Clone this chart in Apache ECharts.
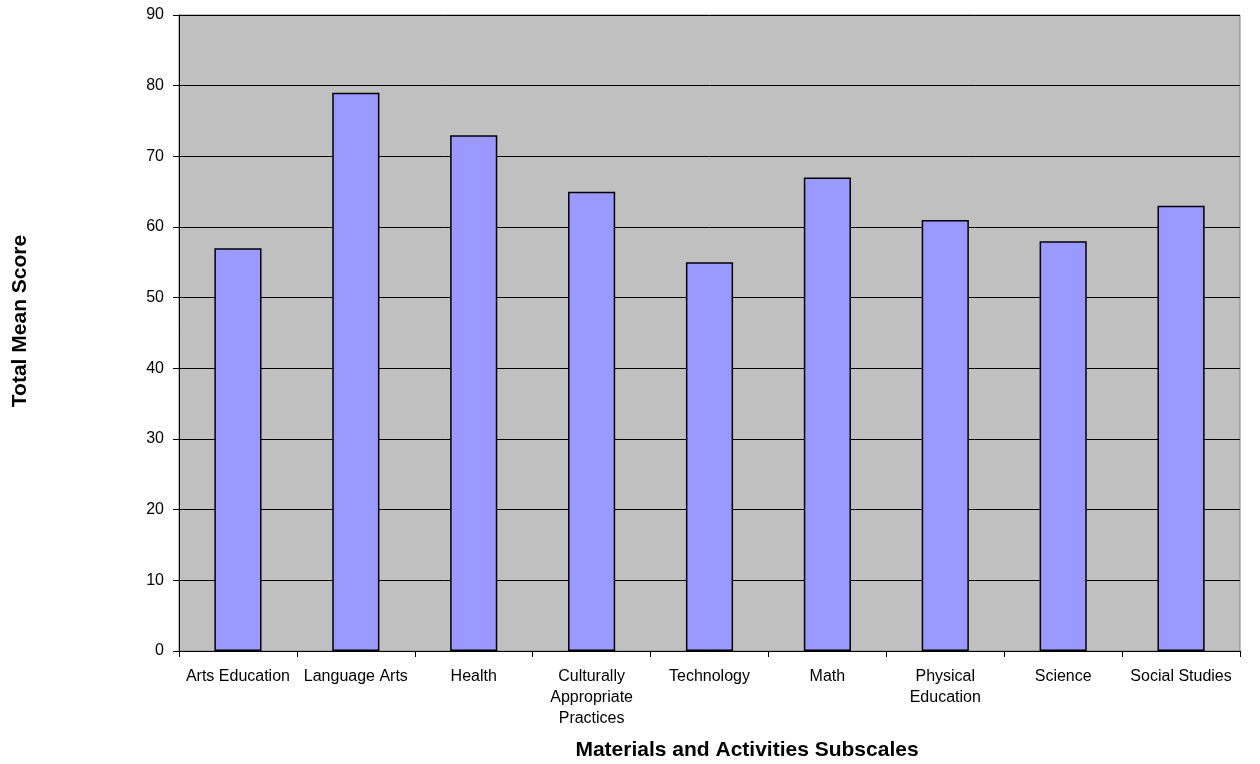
<!DOCTYPE html>
<html>
<head>
<meta charset="utf-8">
<script src="https://cdn.jsdelivr.net/npm/echarts@6/dist/echarts.min.js"></script>
<style>
html, body { margin: 0; padding: 0; background: #fff; }
#main { width: 1260px; height: 764px; }
</style>
</head>
<body>
<div id="main"></div>
<script>
var categories = ['Arts Education', 'Language Arts', 'Health', 'Culturally\nAppropriate\nPractices',
    'Technology', 'Math', 'Physical\nEducation', 'Science', 'Social Studies']
var scores = [57, 79, 73, 65, 55, 67, 61, 58, 63]
var yTicks = [0, 90, 10]   // min, max, interval

var chart = echarts.init(document.getElementById('main'))

var font = 'Liberation Sans, Arial, sans-serif'

var option = {
    animation: false,
    textStyle: { fontFamily: font },
    grid: {
        left: 179, top: 15, right: 20, bottom: 113,
        show: true,
        backgroundColor: '#c0c0c0',
        borderColor: '#808080',
        borderWidth: 1
    },
    graphic: [{
        // titre de l'axe X
        type: 'text',
        x: 747, y: 750,
        style: {
            text: 'Materials and Activities Subscales',
            font: 'bold 21px ' + font,
            fill: '#000',
            align: 'center',
            verticalAlign: 'middle'
        }
    }, {
        // titre de l'axe Y
        type: 'text',
        rotation: Math.PI / 2,
        x: 20, y: 321,
        style: {
            text: 'Total Mean Score',
            font: 'bold 21px ' + font,
            fill: '#000',
            align: 'center',
            verticalAlign: 'middle'
        }
    }],
    xAxis: {
        type: 'category',
        data: categories,
        axisLine: { lineStyle: { color: '#000', width: 1 } },
        axisTick: { show: true, length: 6, alignWithLabel: false, lineStyle: { color: '#000' } },
        axisLabel: {
            interval: 0, color: '#000', fontSize: 16, lineHeight: 21, margin: 15,
            fontFamily: font
        }
    },
    yAxis: {
        type: 'value',
        min: yTicks[0], max: yTicks[1], interval: yTicks[2],
        axisLine: { show: true, lineStyle: { color: '#000', width: 1 } },
        axisTick: { show: true, length: 6, lineStyle: { color: '#000' } },
        axisLabel: { color: '#000', fontSize: 16, margin: 15, fontFamily: font },
        splitLine: { lineStyle: { color: '#000', width: 1 } }
    },
    series: [{
        type: 'bar',
        data: scores,
        barWidth: '40%',
        itemStyle: {
            color: '#9999ff',
            borderColor: '#000',
            borderWidth: 1.5
        }
    }]
}

chart.setOption(option)
</script>
</body>
</html>
